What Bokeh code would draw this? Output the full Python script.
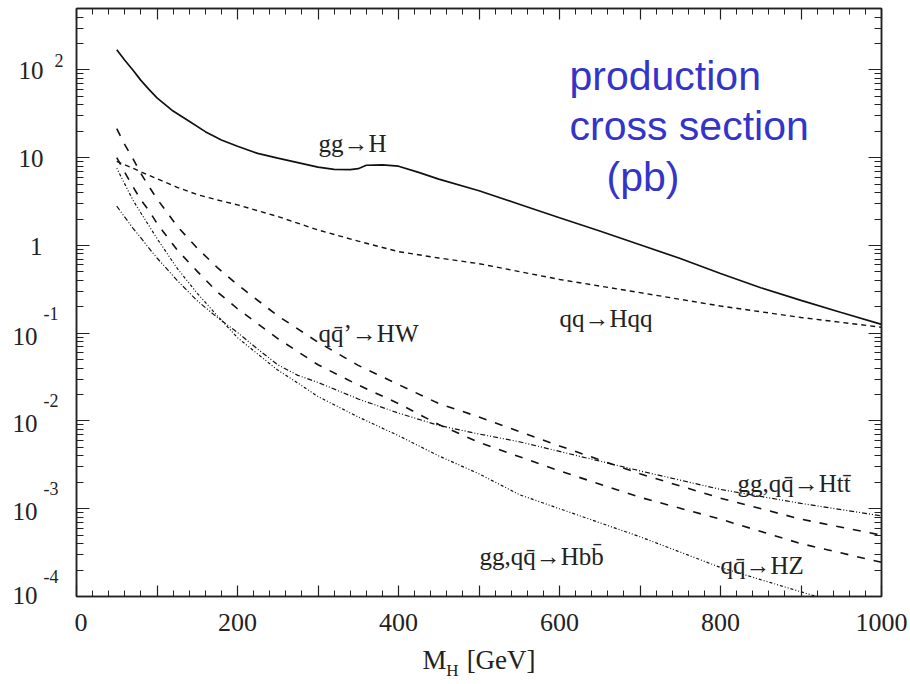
from bokeh.plotting import figure
from bokeh.layouts import row
from bokeh.models import FixedTicker, LinearAxis, LogAxis, Label, Range1d
from bokeh.core.properties import value
from bokeh.embed import file_html
from bokeh.resources import INLINE

# Higgs boson mass grid points [GeV] and production cross sections [pb]
m_ggh = [50, 60, 70, 80, 90, 100, 120, 140, 160, 180, 200, 225, 250, 275, 300,
         320, 340, 350, 360, 380, 400, 425, 450, 500, 550, 600, 650, 700, 750,
         800, 850, 900, 950, 1000]
xs_ggh = [170, 129, 100, 76, 60, 48, 34, 26, 19.8, 15.9, 13.5, 11.2, 9.9, 8.8,
          7.8, 7.35, 7.3, 7.5, 8.2, 8.3, 8.0, 6.8, 5.7, 4.2, 2.95, 2.07, 1.46,
          1.02, 0.71, 0.48, 0.33, 0.237, 0.172, 0.126]

m_qqh = [50, 60, 70, 80, 100, 125, 150, 175, 200, 250, 300, 350, 400, 450, 500,
         600, 700, 800, 900, 1000]
xs_qqh = [9.1, 8.3, 7.6, 6.9, 5.75, 4.6, 3.8, 3.3, 2.9, 2.14, 1.5, 1.12, 0.85,
          0.72, 0.62, 0.41, 0.29, 0.204, 0.151, 0.117]

m_vh = [50, 60, 70, 80, 90, 100, 125, 150, 175, 200, 250, 300, 350, 400, 450,
        500, 600, 700, 800, 900, 1000]
xs_hw = [21.4, 14.1, 9.8, 6.6, 4.7, 3.4, 1.66, 0.93, 0.56, 0.357, 0.158, 0.079,
         0.043, 0.026, 0.0158, 0.0111, 0.0052, 0.0025, 0.00132, 0.00076, 0.0005]
xs_hz = [10.0, 6.8, 4.7, 3.3, 2.5, 1.78, 0.89, 0.507, 0.295, 0.19, 0.087, 0.0437,
         0.0257, 0.0158, 0.0091, 0.0057, 0.0027, 0.00135, 0.00076, 0.0004, 0.000245]

m_hqq = [50, 60, 70, 80, 90, 100, 125, 150, 175, 200, 225, 250, 275, 300, 350,
         400, 450, 500, 550, 600, 700, 800, 900, 1000]
xs_htt = [2.8, 2.1, 1.58, 1.22, 0.93, 0.72, 0.40, 0.234, 0.151, 0.102, 0.066,
          0.0437, 0.0331, 0.0275, 0.0178, 0.0123, 0.0089, 0.0071, 0.0058, 0.0045,
          0.0027, 0.00166, 0.00115, 0.00083]
xs_hbb = [7.6, 5.0, 3.3, 2.34, 1.68, 1.2, 0.55, 0.285, 0.158, 0.089, 0.058,
          0.038, 0.027, 0.019, 0.0111, 0.0068, 0.004, 0.0025, 0.00145, 0.001,
          0.00048, 0.000214, 0.000113, 0.00006]

x_major = [0, 100, 200, 300, 400, 500, 600, 700, 800, 900, 1000]
x_labels = {0: "0", 200: "200", 400: "400", 600: "600", 800: "800", 1000: "1000"}
y_exponents = [-4, -3, -2, -1, 0, 1, 2]

# page geometry in canvas pixels
W, H = 910, 684
LEFT_W = 74          # strip holding the y tick labels
FL, FR, FT, FB = 76, 881, 8, 596
Y_LO, Y_HI = -4.0, 2.7
serif = "Liberation Serif"
ink = "#111111"
txt = "#222222"
NB = "\u00a0"


def at(px, py):
    """Canvas pixel position -> data coordinates inside the frame."""
    x = (px - FL) / (FR - FL) * 1000.0
    ly = Y_LO + (FB - py) / (FB - FT) * (Y_HI - Y_LO)
    return x, 10 ** ly


# ---- main plot -------------------------------------------------------------
p = figure(width=W - LEFT_W, height=H, x_range=Range1d(0, 1000),
           y_range=Range1d(10 ** Y_LO, 10 ** Y_HI), y_axis_type="log",
           output_backend="svg", toolbar_location=None,
           min_border_left=FL - LEFT_W, min_border_right=W - FR,
           min_border_top=FT, min_border_bottom=H - FB,
           background_fill_color="white", border_fill_color="white")
p.grid.visible = False
p.outline_line_color = "#222222"
p.outline_line_width = 1.5

x_minor = list(range(0, 1001, 20))
y_minor = [k * 10 ** e for e in range(-4, 3) for k in range(2, 10)]
y_ticks = [10 ** e for e in y_exponents]


def style_axis(ax, major_len, minor_len):
    ax.axis_line_color = "#222222"
    ax.axis_line_width = 1.5
    ax.major_tick_in = major_len
    ax.major_tick_out = 0
    ax.minor_tick_in = minor_len
    ax.minor_tick_out = 0
    ax.major_tick_line_color = "#222222"
    ax.minor_tick_line_color = "#222222"
    ax.major_tick_line_width = 1.2
    ax.minor_tick_line_width = 1.0


def blank_labels(ax, ticks):
    ax.major_label_overrides = {t: "" for t in ticks}
    ax.major_label_standoff = 0
    ax.major_label_text_font_size = "8px"


xb = p.xaxis[0]
xb.ticker = FixedTicker(ticks=x_major, minor_ticks=x_minor)
xb.major_label_overrides = {t: x_labels.get(t, "") for t in x_major}
xb.major_label_text_font = serif
xb.major_label_text_font_size = "26px"
xb.major_label_text_color = txt
xb.major_label_standoff = 17
# axis title; the gap leaves room for the subscript drawn by the axis below
xb.axis_label = "M" + NB * 3 + "[GeV]"
xb.axis_label_text_font = serif
xb.axis_label_text_font_size = "27px"
xb.axis_label_text_font_style = "normal"
xb.axis_label_text_color = txt
xb.axis_label_standoff = 11
style_axis(xb, 11, 6)

# subscript "H" of the axis title
sub_x = (452 - FL) / (FR - FL) * 1000.0
xsub = LinearAxis(ticker=FixedTicker(ticks=[sub_x], minor_ticks=[]),
                  major_label_overrides={sub_x: "H"},
                  major_label_text_font=serif,
                  major_label_text_font_size="17px",
                  major_label_text_color=txt,
                  major_label_standoff=-17,
                  axis_line_color=None, major_tick_line_color=None,
                  minor_tick_line_color=None, major_tick_in=0, major_tick_out=0,
                  minor_tick_in=0, minor_tick_out=0)
p.add_layout(xsub, "below")

yl = p.yaxis[0]
yl.ticker = FixedTicker(ticks=y_ticks, minor_ticks=y_minor)
blank_labels(yl, y_ticks)
style_axis(yl, 13, 7)

xt = LinearAxis(ticker=FixedTicker(ticks=x_major, minor_ticks=x_minor))
blank_labels(xt, x_major)
style_axis(xt, 11, 6)
p.add_layout(xt, "above")

yr = LogAxis(ticker=FixedTicker(ticks=y_ticks, minor_ticks=y_minor))
blank_labels(yr, y_ticks)
style_axis(yr, 13, 7)
p.add_layout(yr, "right")

p.line(m_ggh, xs_ggh, line_color=ink, line_width=1.7)
p.line(m_qqh, xs_qqh, line_color=ink, line_width=1.4, line_dash="5 4")
p.line(m_vh, xs_hw, line_color=ink, line_width=1.6, line_dash="8 9")
p.line(m_vh, xs_hz, line_color=ink, line_width=1.6, line_dash="8 9")
p.line(m_hqq, xs_htt, line_color=ink, line_width=1.2, line_dash="5 2 1 2 1 2")
p.line(m_hqq, xs_hbb, line_color=ink, line_width=1.2, line_dash="1 2 1 2 3 2")


def put(px, py, text, size, font=serif, color=txt):
    x, y = at(px, py)
    p.add_layout(Label(x=x, y=y, text=text, text_font=font,
                       text_font_size=f"{size}px", text_color=color,
                       text_baseline="alphabetic"))


# process labels
put(318, 143, "gg\u2192H", 25)
put(318, 333, "qq\u0304\u2019\u2192HW", 25)
put(559, 318, "qq\u2192Hqq", 25)
put(737, 483, "gg,qq\u0304\u2192Htt\u0304", 25)
put(479, 556, "gg,qq\u0304\u2192Hbb\u0304", 25)
put(720, 565, "qq\u0304\u2192HZ", 25)

# blue annotation
blue = "#3434c8"
sans = "Liberation Sans"
put(569, 75, "production", 41, font=sans, color=blue)
put(569, 125, "cross section", 41, font=sans, color=blue)
put(606, 176, "(pb)", 41, font=sans, color=blue)

# ---- y tick labels (powers of ten), sharing the main plot's log scale ------
ys = figure(width=LEFT_W, height=H, x_range=Range1d(0, LEFT_W),
            y_range=p.y_range, y_axis_type="log",
            output_backend="svg", toolbar_location=None, min_border=0,
            background_fill_color="white", border_fill_color="white")
ys.yaxis.visible = False
ys.grid.visible = False
ys.outline_line_color = None

pos = [e for e in y_exponents if e > 1]
neg = [e for e in y_exponents if e < 0]
low = min(y_exponents)
neg_in = [e for e in neg if e != low]

ys.text([42, 43], [10.0 ** 0, 10.0 ** 1], text=["1", "10"],
        y_offset=1, text_font=value(serif),
        text_font_size=value("25px"), text_color=txt,
        text_align="right", text_baseline="middle")
ys.text([43] * len(pos), [10.0 ** e for e in pos], text=["10"] * len(pos),
        y_offset=1, text_font=value(serif), text_font_size=value("25px"),
        text_color=txt, text_align="right", text_baseline="middle")
ys.text([54] * len(pos), [10.0 ** e for e in pos], text=[str(e) for e in pos],
        y_offset=-9, text_font=value(serif), text_font_size=value("18px"),
        text_color=txt, text_align="left", text_baseline="middle")
ys.text([37] * len(neg_in), [10.0 ** e for e in neg_in],
        text=["10"] * len(neg_in),
        y_offset=3, text_font=value(serif), text_font_size=value("25px"),
        text_color=txt, text_align="right", text_baseline="middle")
ys.text([43] * len(neg), [10.0 ** e for e in neg], text=[f"-{-e}" for e in neg],
        y_offset=-20, text_font=value(serif), text_font_size=value("18px"),
        text_color=txt, text_align="left", text_baseline="middle")

# the lowest decade's "10" hangs below the frame edge: let the strip's own
# bottom axis carry it so it is not clipped
ax_low = ys.xaxis[0]
ax_low.ticker = FixedTicker(ticks=[24.5], minor_ticks=[])
ax_low.major_label_overrides = {24.5: "10"}
ax_low.major_label_text_font = serif
ax_low.major_label_text_font_size = "25px"
ax_low.major_label_text_color = txt
ax_low.major_label_standoff = -10
ax_low.axis_line_color = None
ax_low.major_tick_line_color = None
ax_low.minor_tick_line_color = None
ax_low.major_tick_in = 0
ax_low.major_tick_out = 0
ax_low.minor_tick_in = 0
ax_low.minor_tick_out = 0

page = row(ys, p, spacing=0)
open("out.html", "w").write(file_html(page, INLINE))
